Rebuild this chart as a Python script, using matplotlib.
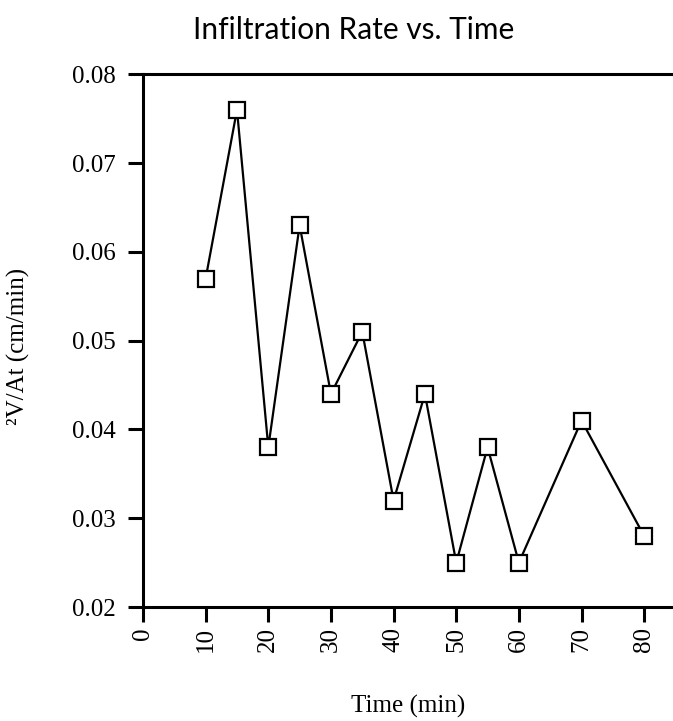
import matplotlib
matplotlib.use("Agg")
import matplotlib.pyplot as plt

# data
time_min = [10, 15, 20, 25, 30, 35, 40, 45, 50, 55, 60, 70, 80]
rate = [0.057, 0.076, 0.038, 0.063, 0.044, 0.051, 0.032, 0.044, 0.025, 0.038, 0.025, 0.041, 0.028]
x_ticks = [0, 10, 20, 30, 40, 50, 60, 70, 80]
y_ticks = [0.02, 0.03, 0.04, 0.05, 0.06, 0.07, 0.08]

fig = plt.figure(figsize=(6.73, 7.21), dpi=100)
ax = fig.add_axes([0.2125, 0.158, 0.7875, 0.739])

ax.plot(time_min, rate, '-', color='black', lw=1.6, marker='s', ms=12,
        mfc='white', mec='black', mew=1.6, clip_on=False)

ax.set_xlim(0, 84.6)
ax.set_ylim(0.02, 0.08)
ax.set_xticks(x_ticks)
ax.set_yticks(y_ticks)
ax.set_xticklabels([str(t) for t in x_ticks], rotation=90)
ax.set_yticklabels(["%.2f" % v for v in y_ticks])

for s in ['left', 'bottom', 'top']:
    ax.spines[s].set_linewidth(2.2)
ax.spines['right'].set_visible(False)
ax.tick_params(direction='out', length=10.5, width=2.2, labelsize=18)
ax.tick_params(axis='x', pad=4)
ax.tick_params(axis='y', pad=9)
for lab in ax.get_xticklabels() + ax.get_yticklabels():
    lab.set_fontfamily('Liberation Serif')

fig.text(0.525, 0.958, "Infiltration Rate vs. Time", ha='center', va='center',
         fontsize=21.5, family='Lato')
fig.text(0.027, 0.519, "²V/At (cm/min)", rotation=90, ha='center', va='center',
         fontsize=18, family='Liberation Serif')
fig.text(0.607, 0.02, "Time (min)", ha='center', va='center',
         fontsize=18, family='Liberation Serif')

fig.savefig("out.png", dpi=100)
